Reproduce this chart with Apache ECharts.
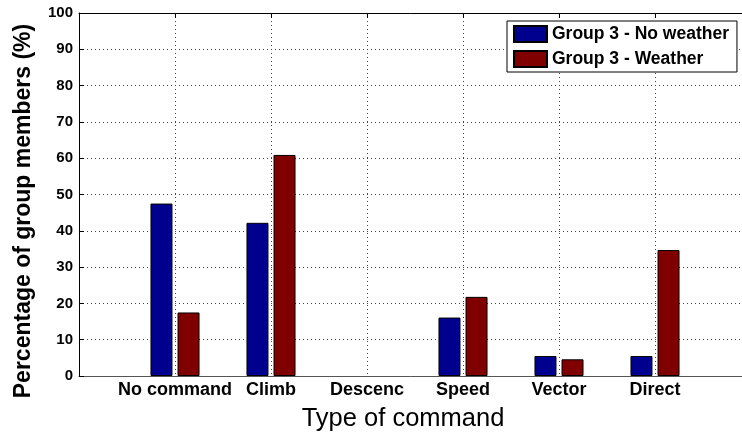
<!DOCTYPE html>
<html>
<head>
<meta charset="utf-8">
<script src="https://cdn.jsdelivr.net/npm/echarts@6/dist/echarts.min.js"></script>
<style>
  html, body { margin: 0; padding: 0; background: #fff; }
  #main { width: 742px; height: 435px; }
</style>
</head>
<body>
<div id="main"></div>
<script>
var categories = ['No command', 'Climb', 'Descenc', 'Speed', 'Vector', 'Direct'];
var noWeather = [47.5, 42.2, 0, 16.1, 5.5, 5.5];
var weather = [17.5, 60.9, 0, 21.8, 4.6, 34.7];
var yTicks = [0, 10, 20, 30, 40, 50, 60, 70, 80, 90, 100];

// matlab style xlim [0, 7]: pad one empty slot each side
var xData = [''].concat(categories, ['']);
function pad(arr) {
  // zero bars are not visible in the original
  var vals = arr.map(function (v) {
    return v === 0 ? { value: 0, itemStyle: { borderWidth: 0, opacity: 0 } } : v;
  });
  return [null].concat(vals, [null]);
}
function realSlot(i) { return i > 0 && i <= categories.length; }

var font = 'Liberation Sans, Arial, Helvetica, sans-serif';
var chart = echarts.init(document.getElementById('main'));

var option = {
  animation: false,
  backgroundColor: '#fff',
  textStyle: { fontFamily: font },
  title: {
    text: 'Type of command',
    left: 398,
    top: 401,
    textAlign: 'center',
    textStyle: { fontSize: 25.5, fontWeight: 'normal', color: '#000', fontFamily: font }
  },
  graphic: [{
    type: 'text',
    x: 24,
    y: 211,
    rotation: Math.PI / 2,
    style: {
      text: 'Percentage of group members (%)',
      fill: '#000',
      font: 'bold 23px ' + font,
      align: 'center',
      verticalAlign: 'middle'
    }
  }],
  legend: {
    orient: 'vertical',
    left: 507,
    top: 21,
    padding: [4, 8, 4, 6],
    itemWidth: 33,
    itemHeight: 16,
    itemGap: 7,
    borderColor: '#000',
    borderWidth: 1,
    backgroundColor: '#fff',
    icon: 'rect',
    textStyle: { fontSize: 17.5, fontWeight: 'bold', color: '#000', fontFamily: font },
    data: ['Group 3 - No weather', 'Group 3 - Weather']
  },
  grid: { left: 79, right: -9, top: 13, bottom: 59, containLabel: false, outerBoundsMode: 'none' },
  xAxis: [{
    type: 'category',
    data: xData,
    boundaryGap: false,
    axisLine: { lineStyle: { color: '#555', width: 1 } },
    axisTick: { show: false },
    axisLabel: {
      interval: 0,
      margin: 5,
      color: '#000',
      fontSize: 18,
      fontWeight: 'bold',
      fontFamily: font
    },
    splitLine: {
      show: true,
      interval: function (i) { return realSlot(i); },
      lineStyle: { color: '#444', type: [1, 3], width: 1 }
    }
  }, {
    type: 'category',
    data: xData,
    position: 'top',
    boundaryGap: false,
    axisLine: { lineStyle: { color: '#000', width: 1 } },
    axisTick: { inside: true, length: 5, interval: function (i) { return realSlot(i); }, lineStyle: { color: '#000' } },
    axisLabel: { show: false },
    splitLine: { show: false }
  }],
  yAxis: {
    type: 'value',
    min: yTicks[0],
    max: yTicks[yTicks.length - 1],
    interval: 10,
    axisLine: { show: true, lineStyle: { color: '#000', width: 1 } },
    axisTick: { show: true, inside: true, length: 5, lineStyle: { color: '#000' } },
    axisLabel: { color: '#000', fontSize: 15, fontWeight: 'bold', margin: 6, fontFamily: font },
    splitLine: {
      show: true,
      showMinLine: false,
      showMaxLine: false,
      lineStyle: { color: '#444', type: [1, 3], width: 1 }
    }
  },
  series: [{
    name: 'Group 3 - No weather',
    type: 'bar',
    data: pad(noWeather),
    barWidth: 22,
    barGap: '23%',
    itemStyle: { color: '#00008F', borderColor: '#000', borderWidth: 1 }
  }, {
    name: 'Group 3 - Weather',
    type: 'bar',
    data: pad(weather),
    barWidth: 22,
    barGap: '23%',
    itemStyle: { color: '#800000', borderColor: '#000', borderWidth: 1 }
  }]
};

chart.setOption(option);
</script>
</body>
</html>
